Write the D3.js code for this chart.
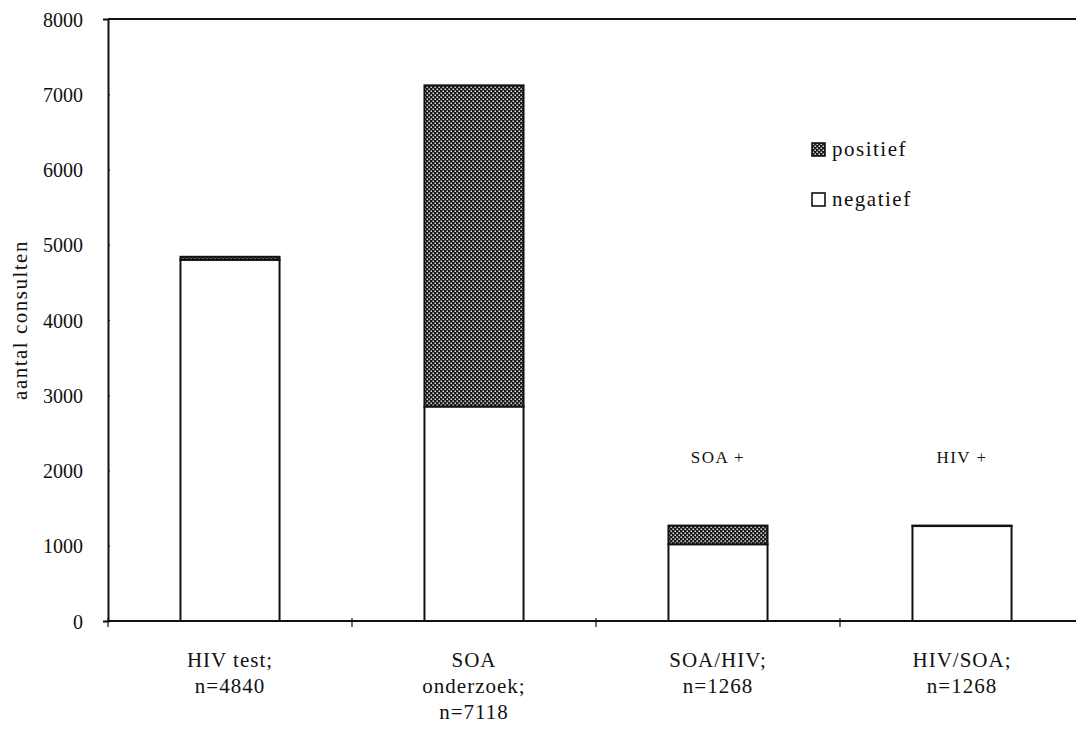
<!DOCTYPE html>
<html>
<head>
<meta charset="utf-8">
<script src="https://cdn.jsdelivr.net/npm/d3@7"></script>
<style>
  html, body { margin: 0; padding: 0; background: #fff; }
  svg { display: block; }
</style>
</head>
<body>
<svg id="chart" width="1076" height="731"></svg>
<script>
// ---- data ----
const categories = ["HIV test;\nn=4840", "SOA\nonderzoek;\nn=7118", "SOA/HIV;\nn=1268", "HIV/SOA;\nn=1268"];
const negatief = [4800, 2850, 1020, 1262];
const positief = [40, 4268, 248, 6];
const seriesNames = ["positief", "negatief"];
const yTicks = [0, 1000, 2000, 3000, 4000, 5000, 6000, 7000, 8000];
const annotations = [null, null, "SOA +", "HIV +"];
const yTitle = "aantal consulten";

// ---- layout ----
const FONT = "'Liberation Serif', 'Times New Roman', serif";
const svg = d3.select("#chart");
const margin = { left: 108, top: 19 };
const plotBottom = 621;
const step = 244;

const x = d3.scaleBand()
  .domain(categories)
  .range([margin.left, margin.left + step * categories.length])
  .paddingInner(0.594)
  .paddingOuter(0.297);

const y = d3.scaleLinear().domain([0, 8000]).range([plotBottom, margin.top]);

// pattern for "positief"
const defs = svg.append("defs");
const pat = defs.append("pattern")
  .attr("id", "chk").attr("patternUnits", "userSpaceOnUse")
  .attr("width", 4).attr("height", 4);
pat.append("rect").attr("width", 4).attr("height", 4).attr("fill", "#1a1a1a");
pat.append("rect").attr("x", 0.5).attr("y", 0.5).attr("width", 1.4).attr("height", 1.4).attr("fill", "#fff");
pat.append("rect").attr("x", 2.5).attr("y", 2.5).attr("width", 1.4).attr("height", 1.4).attr("fill", "#fff");

// top frame line
svg.append("line")
  .attr("x1", margin.left).attr("x2", 1076)
  .attr("y1", y(8000)).attr("y2", y(8000))
  .attr("stroke", "#111").attr("stroke-width", 2);

// stacked data
const stackData = categories.map((c, i) => ({ cat: c, negatief: negatief[i], positief: positief[i] }));
const stack = d3.stack().keys(["negatief", "positief"])(stackData);

const fills = { negatief: "#fff", positief: "url(#chk)" };
stack.forEach(layer => {
  svg.append("g").selectAll("rect")
    .data(layer)
    .join("rect")
    .attr("x", d => x(d.data.cat))
    .attr("width", x.bandwidth())
    .attr("y", d => y(d[1]))
    .attr("height", d => Math.max(0, y(d[0]) - y(d[1])))
    .attr("fill", fills[layer.key])
    .attr("stroke", "#111")
    .attr("stroke-width", 2);
});

// y axis
const yAxis = d3.axisLeft(y).tickValues(yTicks).tickSize(5).tickPadding(20).tickFormat(d3.format("d"));
const gy = svg.append("g").attr("transform", `translate(${margin.left},0)`).call(yAxis);
gy.attr("font-family", FONT);
gy.select(".domain").attr("stroke", "#111").attr("stroke-width", 2);
gy.selectAll(".tick line").attr("stroke", "#111").attr("x2", 2);
gy.selectAll(".tick text").attr("font-size", 20).attr("fill", "#111").attr("dy", "0.36em");

// x axis
const xAxis = d3.axisBottom(x).tickSize(0).tickFormat("");
const gx = svg.append("g").attr("transform", `translate(0,${plotBottom})`).call(xAxis);
gx.select(".domain").attr("d", `M${margin.left},0H1076`).attr("stroke", "#111").attr("stroke-width", 2);
gx.selectAll(".tick").remove();
// category boundary ticks
svg.append("g").selectAll("line")
  .data(categories)
  .join("line")
  .attr("x1", d => x(d) - (x.step() - x.bandwidth()) / 2)
  .attr("x2", d => x(d) - (x.step() - x.bandwidth()) / 2)
  .attr("y1", plotBottom - 3).attr("y2", plotBottom + 6)
  .attr("stroke", "#111").attr("stroke-width", 1.2);

// category labels
const labels = svg.append("g").selectAll("text")
  .data(categories)
  .join("text")
  .attr("font-family", FONT)
  .attr("fill", "#111")
  .attr("x", d => x(d) + x.bandwidth() / 2)
  .attr("y", plotBottom + 46)
  .attr("text-anchor", "middle")
  .attr("letter-spacing", 1)
  .attr("font-size", 21);
labels.each(function (d) {
  const t = d3.select(this);
  d.split("\n").forEach((line, i) => {
    t.append("tspan").attr("x", x(d) + x.bandwidth() / 2).attr("dy", i === 0 ? 0 : 26).text(line);
  });
});

// annotations
svg.append("g").selectAll("text")
  .data(categories.map((c, i) => ({ c, a: annotations[i] })).filter(d => d.a))
  .join("text")
  .attr("font-family", FONT)
  .attr("fill", "#111")
  .attr("x", d => x(d.c) + x.bandwidth() / 2)
  .attr("y", y(2000) - 8)
  .attr("text-anchor", "middle")
  .attr("letter-spacing", 1.5)
  .attr("font-size", 17)
  .text(d => d.a);

// y title
svg.append("text")
  .attr("font-family", FONT)
  .attr("fill", "#111")
  .attr("transform", `translate(27,${y(4000)}) rotate(-90)`)
  .attr("text-anchor", "middle")
  .attr("letter-spacing", 1.5)
  .attr("font-size", 21)
  .text(yTitle);

// legend
const legend = svg.append("g").attr("transform", "translate(812,143)");
seriesNames.forEach((s, i) => {
  const g = legend.append("g").attr("transform", `translate(0,${i * 50})`);
  g.append("rect").attr("x", 0).attr("y", 0).attr("width", 13).attr("height", 13)
    .attr("fill", s === "positief" ? "url(#chk)" : "#fff")
    .attr("stroke", "#111").attr("stroke-width", 1.6);
  g.append("text").attr("x", 20).attr("y", 13)
    .attr("font-family", FONT).attr("fill", "#111")
    .attr("letter-spacing", 1.5)
    .attr("font-size", 21).text(s);
});
</script>
</body>
</html>
